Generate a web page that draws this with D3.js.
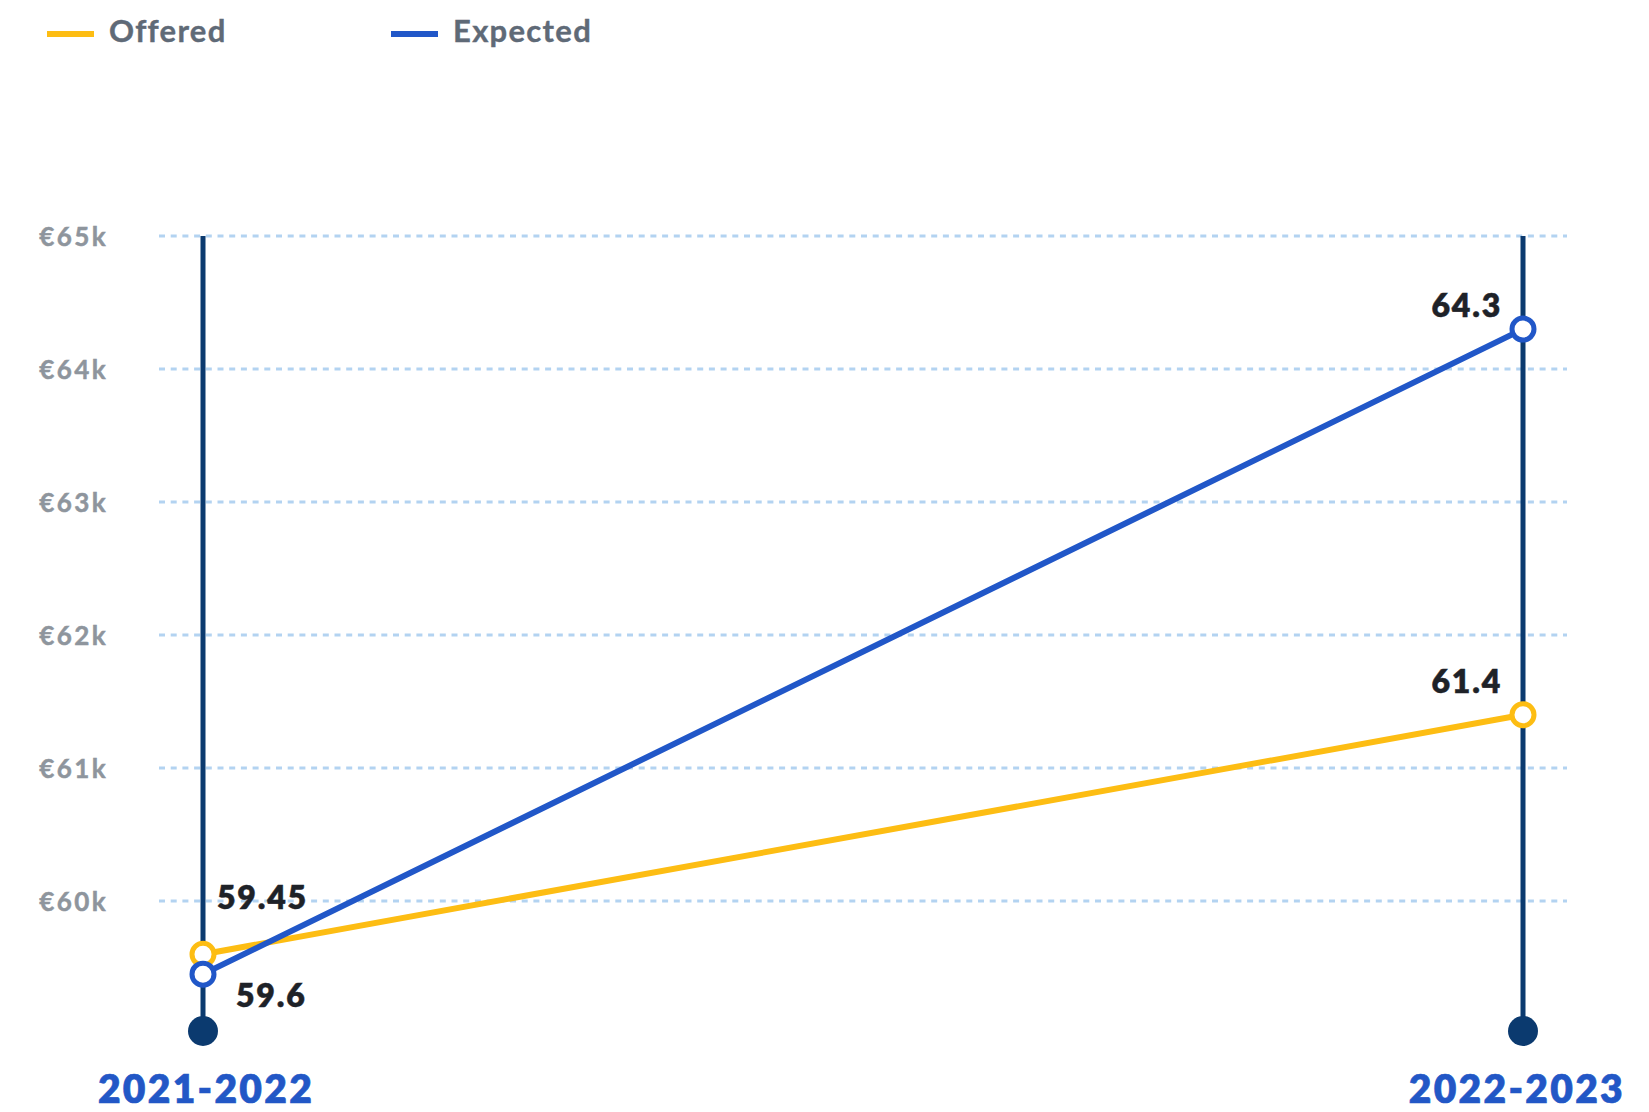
<!DOCTYPE html>
<html>
<head>
<meta charset="utf-8">
<script src="https://cdn.jsdelivr.net/npm/d3@7"></script>
<style>
  html, body { margin: 0; padding: 0; background: #fff; }
  svg { display: block; font-family: Lato, "Open Sans", sans-serif; }
</style>
</head>
<body>
<svg id="chart" width="1649" height="1112"></svg>
<script>
// ---- data ----
const categories = ["2021-2022", "2022-2023"];
const offered = [59.6, 61.4];
const expected = [59.45, 64.3];
const seriesNames = ["Offered", "Expected"];
const yTicks = [60, 61, 62, 63, 64, 65];
const yTickLabels = ["€60k", "€61k", "€62k", "€63k", "€64k", "€65k"];
// label texts shown next to the points (as printed in the reference)
const pointLabelTexts = [["59.6", "61.4"], ["59.45", "64.3"]];

// ---- styles ----
const colors = { Offered: "#fdbd13", Expected: "#2157c8", axis: "#0b3a6f", grid: "#b3d3f1",
                 tick: "#8e959d", legend: "#5f6a77", label: "#1e2228", cat: "#2257c6" };
// label offsets [dx, dy, anchor] per series per category
const labelPlacement = {
  Offered: [[33, 53, "start"], [-21, -22, "end"]],
  Expected: [[14, -65, "start"], [-21, -12, "end"]]
};

const svg = d3.select("#chart");
const x = d3.scalePoint().domain(categories).range([203, 1523]);
const y = d3.scaleLinear().domain([60, 65]).range([901, 236]);
const yBottom = 1031;

// y axis labels
const yAxis = d3.axisLeft(y).tickValues(yTicks).tickSize(0).tickPadding(0)
  .tickFormat((d, i) => yTickLabels[i]);
const gAxis = svg.append("g").attr("transform", "translate(108,0)").call(yAxis);
gAxis.select(".domain").remove();
gAxis.selectAll("text")
  .attr("x", 0).attr("dy", "0.36em")
  .style("font-family", "Lato, sans-serif")
  .style("font-weight", 700).style("font-size", "26px")
  .style("letter-spacing", "2.4px")
  .attr("stroke", colors.tick).attr("stroke-width", 0.5)
  .attr("fill", colors.tick).attr("text-anchor", "end");

// grid lines
svg.append("g").selectAll("line").data(yTicks).join("line")
  .attr("x1", 159).attr("x2", 1567)
  .attr("y1", d => y(d)).attr("y2", d => y(d))
  .attr("stroke", colors.grid).attr("stroke-width", 3)
  .attr("stroke-dasharray", "6,5.7");

// vertical category lines
const gCat = svg.append("g");
gCat.selectAll("line").data(categories).join("line")
  .attr("x1", d => x(d)).attr("x2", d => x(d))
  .attr("y1", y(65)).attr("y2", yBottom)
  .attr("stroke", colors.axis).attr("stroke-width", 5);
gCat.selectAll("circle").data(categories).join("circle")
  .attr("cx", d => x(d)).attr("cy", yBottom).attr("r", 15)
  .attr("fill", colors.axis);

// category labels
gCat.selectAll("text").data(categories).join("text")
  .attr("x", d => x(d) + 3).attr("y", 1103)
  .attr("text-anchor", "middle")
  .attr("fill", colors.cat)
  .attr("stroke", colors.cat).attr("stroke-width", 0.6)
  .style("font-weight", 800).style("font-size", "39px").style("letter-spacing", "2.3px")
  .text(d => d)
  .each(function() {
    const bb = this.getBBox();
    const right = 1625;
    if (bb.x + bb.width > right) d3.select(this).attr("x", +d3.select(this).attr("x") - (bb.x + bb.width - right));
  });

// series lines
const series = [
  { name: "Offered", values: offered, labels: pointLabelTexts[0] },
  { name: "Expected", values: expected, labels: pointLabelTexts[1] }
];
const line = d3.line().x((d, i) => x(categories[i])).y(d => y(d));

series.forEach(s => {
  svg.append("path").datum(s.values)
    .attr("d", line).attr("fill", "none")
    .attr("stroke", colors[s.name]).attr("stroke-width", 6)
    .attr("stroke-linecap", "round");
});
series.forEach(s => {
  svg.append("g").selectAll("circle").data(s.values).join("circle")
    .attr("cx", (d, i) => x(categories[i])).attr("cy", d => y(d))
    .attr("r", 11).attr("fill", "#fff")
    .attr("stroke", colors[s.name]).attr("stroke-width", 5);
});
series.forEach(s => {
  svg.append("g").selectAll("text").data(s.values).join("text")
    .attr("x", (d, i) => x(categories[i]) + labelPlacement[s.name][i][0])
    .attr("y", (d, i) => y(d) + labelPlacement[s.name][i][1])
    .attr("text-anchor", (d, i) => labelPlacement[s.name][i][2])
    .attr("fill", colors.label)
    .attr("stroke", colors.label).attr("stroke-width", 0.5)
    .style("font-weight", 800).style("font-size", "32px").style("letter-spacing", "1.8px")
    .text((d, i) => s.labels[i]);
});

// legend
const legendX = [47, 391];
const lg = svg.append("g").selectAll("g").data(seriesNames).join("g")
  .attr("transform", (d, i) => `translate(${legendX[i]},0)`);
lg.append("line").attr("x1", 0).attr("x2", 47).attr("y1", 34).attr("y2", 34)
  .attr("stroke", d => colors[d]).attr("stroke-width", 6);
lg.append("text").attr("x", 62).attr("y", 42)
  .attr("fill", colors.legend)
  .attr("stroke", colors.legend).attr("stroke-width", 0.4)
  .style("font-weight", 700).style("font-size", "31px").style("letter-spacing", "1.3px")
  .text(d => d);
</script>
</body>
</html>
